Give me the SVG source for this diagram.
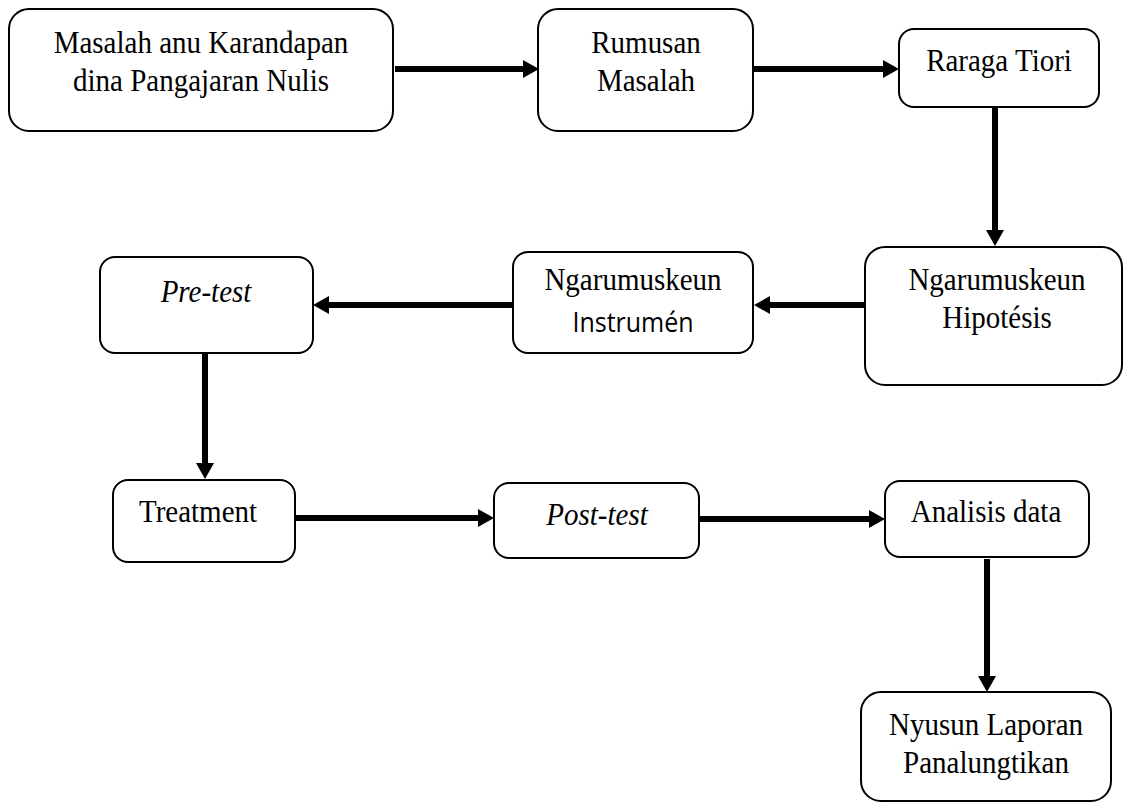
<svg xmlns="http://www.w3.org/2000/svg" width="1125" height="803" viewBox="0 0 1125 803">
<style>
.box{fill:#fff;stroke:#000;stroke-width:2}
.t{font-family:"Liberation Serif","Times New Roman",serif;font-size:29px;fill:#000;text-anchor:middle}
.i{font-style:italic}
.s{font-family:"Open Sans","Liberation Sans",sans-serif;font-size:25px;fill:#000;text-anchor:middle}
.c{stroke:#000;stroke-width:6;fill:none;marker-end:url(#ah)}
</style>
<defs>
<marker id="ah" viewBox="0 0 16 18" refX="0" refY="9" markerWidth="16" markerHeight="18" markerUnits="userSpaceOnUse" orient="auto">
<path d="M0,0 L16,9 L0,18 Z" fill="#000"/>
</marker>
</defs>
<rect width="1125" height="803" fill="#fff"/>
<g id="connectors">
<line class="c" x1="395" y1="69" x2="523" y2="69"/>
<line class="c" x1="754" y1="69" x2="883" y2="69"/>
<line class="c" x1="995" y1="107" x2="995" y2="230"/>
<line class="c" x1="864" y1="305" x2="770" y2="305"/>
<line class="c" x1="513" y1="305" x2="329" y2="305"/>
<line class="c" x1="205" y1="353" x2="205" y2="463"/>
<line class="c" x1="295" y1="518" x2="478" y2="518"/>
<line class="c" x1="699" y1="519" x2="869" y2="519"/>
<line class="c" x1="987" y1="559" x2="987" y2="676"/>
</g>
<g id="n1"><rect class="box" x="9" y="9" width="384" height="122" rx="20"/>
<text class="t" transform="translate(201 53) scale(1 1.08)">Masalah anu Karandapan</text>
<text class="t" transform="translate(201 91) scale(1 1.08)">dina Pangajaran Nulis</text></g>
<g id="n2"><rect class="box" x="538" y="9" width="215" height="122" rx="20"/>
<text class="t" transform="translate(646 53) scale(1 1.08)">Rumusan</text>
<text class="t" transform="translate(646 91) scale(1 1.08)">Masalah</text></g>
<g id="n3"><rect class="box" x="899" y="29" width="200" height="78" rx="15"/>
<text class="t" transform="translate(999 71) scale(1 1.08)">Raraga Tiori</text></g>
<g id="n4"><rect class="box" x="865" y="247" width="257" height="138" rx="20"/>
<text class="t" transform="translate(997 290) scale(1 1.08)">Ngarumuskeun</text>
<text class="t" transform="translate(997 328) scale(1 1.08)">Hipotésis</text></g>
<g id="n5"><rect class="box" x="513" y="252" width="240" height="101" rx="15"/>
<text class="t" transform="translate(633 290) scale(1 1.08)">Ngarumuskeun</text>
<text class="s" transform="translate(633 332) scale(1 1.08)">Instrumén</text></g>
<g id="n6"><rect class="box" x="100" y="257" width="213" height="96" rx="15"/>
<text class="t i" transform="translate(206 302) scale(1 1.08)">Pre-test</text></g>
<g id="n7"><rect class="box" x="113" y="480" width="182" height="82" rx="15"/>
<text class="t" transform="translate(198 522) scale(1 1.08)">Treatment</text></g>
<g id="n8"><rect class="box" x="494" y="483" width="205" height="75" rx="15"/>
<text class="t i" transform="translate(597 525) scale(1 1.08)">Post-test</text></g>
<g id="n9"><rect class="box" x="885" y="481" width="204" height="76" rx="15"/>
<text class="t" transform="translate(986 522) scale(1 1.08)">Analisis data</text></g>
<g id="n10"><rect class="box" x="861" y="692" width="250" height="109" rx="20"/>
<text class="t" transform="translate(986 735) scale(1 1.08)">Nyusun Laporan</text>
<text class="t" transform="translate(986 773) scale(1 1.08)">Panalungtikan</text></g>
</svg>
